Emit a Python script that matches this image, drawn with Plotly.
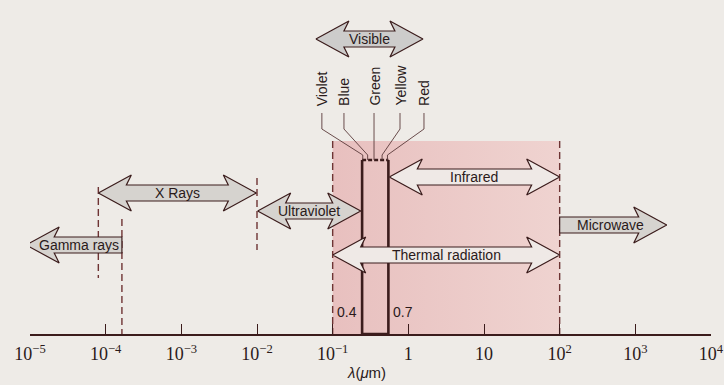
import numpy as np
import plotly.graph_objects as go

# ---------------- data (wavelengths in micrometres) ----------------
decades = [1e-5, 1e-4, 1e-3, 1e-2, 1e-1, 1, 10, 1e2, 1e3, 1e4]
decade_labels = ["10<sup>−5</sup>", "10<sup>−4</sup>", "10<sup>−3</sup>", "10<sup>−2</sup>",
                 "10<sup>−1</sup>", "1", "10", "10<sup>2</sup>", "10<sup>3</sup>", "10<sup>4</sup>"]

band_names = ["Visible", "X Rays", "Ultraviolet", "Infrared", "Microwave", "Gamma rays", "Thermal radiation"]
band_start = [0.060, 8e-5, 0.0102, 0.56, 100, 8.9e-6, 0.1]
band_end   = [1.56, 0.0098, 0.235, 100, 2600, 1.64e-4, 100]
band_heads = ["both", "both", "both", "both", "right", "left", "both"]

thermal_range = [0.1, 100]             # shaded region
visible_box = [0.245, 0.545]           # drawn box of the visible band
visible_labels = ["0.4", "0.7"]

colour_names = ["Violet", "Blue", "Green", "Yellow", "Red"]
colour_label_x = [0.072, 0.141, 0.352, 0.776, 1.61]
colour_box_x = [0.25, 0.29, 0.352, 0.45, 0.53]

boundary_x = [0.1, 100, 0.01, 8e-5, 1.64e-4]

axis_title_x = 0.28

# ---------------- layout constants (pixels) ----------------
W, H = 724, 385
L_M, R_M, B_M = 30, 13, 51
AXIS_Y = H - B_M  # 334
dec_px = (W - L_M - R_M) / 9.0

band_y = [39, 193, 211, 177, 225, 245, 255]
boundary_y = [(141, AXIS_Y), (141, AXIS_Y), (178, 250), (187, 278), (219, AXIS_Y)]

INK = "#3b1c1c"
DASH = "#6e3434"
FILL_GREY = "#d6d3cf"
FILL_LIGHT = "#efe9e6"
TXT = "#2a1a1a"
SANS = "Liberation Sans, Arial, sans-serif"
SERIF = "Liberation Serif"

HEAD = 33 / dec_px
HH, SH = 18, 8

fig = go.Figure()

# shaded thermal region
fig.add_trace(go.Scatter(
    x=[thermal_range[0], thermal_range[1], thermal_range[1], thermal_range[0], thermal_range[0]],
    y=[141, 141, AXIS_Y, AXIS_Y, 141], fill="toself", mode="none",
    fillgradient=dict(type="horizontal", colorscale=[[0, "#e8c0bf"], [1, "#efd3d0"]]),
    hoverinfo="skip"))

# dashed boundaries
for bx, (y0, y1) in zip(boundary_x, boundary_y):
    fig.add_trace(go.Scatter(x=[bx, bx], y=[y0, y1], mode="lines",
                             line=dict(color=DASH, width=1.4, dash="7px,4px"), hoverinfo="skip"))


def arrow(x0, x1, yc, heads):
    a, b = np.log10(x0), np.log10(x1)
    if heads in ("both", "left"):
        top = [(a, yc), (a + HEAD, yc - HH), (a + 0.85 * HEAD, yc - SH)]
        bot = [(a + 0.85 * HEAD, yc + SH), (a + HEAD, yc + HH), (a, yc)]
    else:
        top = [(a, yc + SH), (a, yc - SH)]
        bot = [(a, yc + SH)]
    if heads in ("both", "right"):
        right = [(b - 0.85 * HEAD, yc - SH), (b - HEAD, yc - HH), (b, yc),
                 (b - HEAD, yc + HH), (b - 0.85 * HEAD, yc + SH)]
    else:
        right = [(b, yc - SH), (b, yc + SH)]
    pts = top + right + bot
    return [10 ** p[0] for p in pts], [p[1] for p in pts]


# visible box
bl, br = visible_box
fig.add_trace(go.Scatter(x=[bl, bl, br, br], y=[160, AXIS_Y, AXIS_Y, 160], mode="lines",
                         line=dict(color=INK, width=2.6), hoverinfo="skip"))
fig.add_trace(go.Scatter(x=[bl, br], y=[160, 160], mode="lines",
                         line=dict(color=INK, width=2.6, dash="4px,2px"), hoverinfo="skip"))

# arrows
for name, s, e, hd, yc in zip(band_names, band_start, band_end, band_heads, band_y):
    xs, ys = arrow(s, e, yc, hd)
    fill = FILL_LIGHT if name in ("Infrared", "Thermal radiation") else FILL_GREY
    if name == "Visible":
        fill = "#cdcccb"
    fig.add_trace(go.Scatter(x=xs, y=ys, fill="toself", fillcolor=fill, mode="lines",
                             line=dict(color=INK, width=1.2), hoverinfo="skip"))

# colour leaders
for lx, bx in zip(colour_label_x, colour_box_x):
    if abs(lx - bx) < 1e-9:
        xs, ys = [lx, lx], [113, 160]
    else:
        xs, ys = [lx, lx, bx, bx], [113, 129, 155, 160]
    fig.add_trace(go.Scatter(x=xs, y=ys, mode="lines", line=dict(color="#5a3a3a", width=0.9),
                             hoverinfo="skip"))

annotations = []
for name, s, e, hd, yc in zip(band_names, band_start, band_end, band_heads, band_y):
    a, b = np.log10(s), np.log10(e)
    if hd == "both":
        annotations.append(dict(x=(a + b) / 2, y=yc, text=name, xanchor="center"))
    elif hd == "left":
        annotations.append(dict(x=b, y=yc, text=name, xanchor="right", xshift=-1))
    else:
        annotations.append(dict(x=a, y=yc, text=name, xanchor="left", xshift=15))
for an in annotations:
    an.update(xref="x", yref="y", showarrow=False, yanchor="middle",
              font=dict(family=SANS, size=14, color=TXT))

for name, lx in zip(colour_names, colour_label_x):
    annotations.append(dict(x=np.log10(lx), y=108, text=name, textangle=-90, xref="x", yref="y",
                            showarrow=False, xanchor="center", yanchor="bottom",
                            font=dict(family=SANS, size=14, color=TXT)))

annotations.append(dict(x=np.log10(bl), y=312, text=visible_labels[0], xref="x", yref="y",
                        showarrow=False, xanchor="right", xshift=-3,
                        font=dict(family=SANS, size=14, color=TXT)))
annotations.append(dict(x=np.log10(br), y=312, text=visible_labels[1], xref="x", yref="y",
                        showarrow=False, xanchor="left", xshift=3,
                        font=dict(family=SANS, size=14, color=TXT)))
annotations.append(dict(x=np.log10(axis_title_x), y=0, yshift=-38, text="<i>λ</i>(<i>μ</i>m)",
                        xref="x", yref="paper", showarrow=False, yanchor="middle",
                        font=dict(family=SANS, size=15, color=TXT)))

fig.update_layout(
    width=W, height=H, margin=dict(l=L_M, r=R_M, t=0, b=B_M),
    paper_bgcolor="#eeebe7", plot_bgcolor="rgba(0,0,0,0)",
    showlegend=False, hovermode=False, annotations=annotations,
    yaxis=dict(range=[AXIS_Y, 0], visible=False, showgrid=False, zeroline=False),
)
fig.update_xaxes(type="log", range=[-5, 4], tickmode="array", tickvals=decades, ticktext=decade_labels,
                 ticks="inside", ticklen=10, tickwidth=1.3, tickcolor=INK,
                 showline=True, linecolor=INK, linewidth=1.6, showgrid=False, zeroline=False,
                 tickfont_family=SERIF, tickfont_size=18, tickfont_color=TXT, ticklabelstandoff=3)

fig.write_html("out.html")
